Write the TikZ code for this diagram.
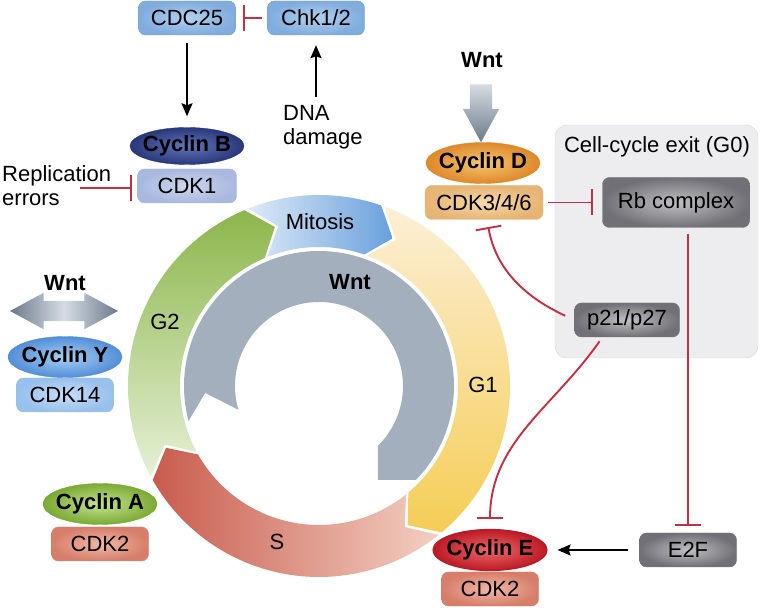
\documentclass[tikz,border=0pt]{standalone}
\usepackage{fontspec}
\setmainfont{Liberation Sans}
\usetikzlibrary{shapes.geometric,shapes.arrows,arrows.meta}

\definecolor{inhred}{RGB}{200,45,65}
\definecolor{ringgray}{RGB}{163,175,188}
\definecolor{mitlt}{RGB}{222,234,247}
\definecolor{mitdk}{RGB}{105,160,220}
\definecolor{gonelt}{RGB}{252,239,214}
\definecolor{gonedk}{RGB}{245,205,85}
\definecolor{slt}{RGB}{243,208,194}
\definecolor{sdk}{RGB}{200,92,78}
\definecolor{gtwolt}{RGB}{230,240,214}
\definecolor{gtwodk}{RGB}{140,182,75}
\definecolor{cdcin}{RGB}{178,208,238}
\definecolor{cdcout}{RGB}{128,172,222}
\definecolor{cdcline}{RGB}{115,158,208}
\definecolor{kinein}{RGB}{205,214,238}
\definecolor{kineout}{RGB}{168,184,222}
\definecolor{cycbin}{RGB}{98,118,188}
\definecolor{cycbout}{RGB}{40,56,122}
\definecolor{cyclyin}{RGB}{168,207,242}
\definecolor{cyclyout}{RGB}{82,142,216}
\definecolor{cdkfourin}{RGB}{198,222,246}
\definecolor{cdkfourout}{RGB}{152,192,236}
\definecolor{cycain}{RGB}{198,226,142}
\definecolor{cycaout}{RGB}{122,170,52}
\definecolor{cdktwoin}{RGB}{242,184,168}
\definecolor{cdktwoout}{RGB}{214,126,106}
\definecolor{cycdin}{RGB}{246,198,114}
\definecolor{cycdout}{RGB}{222,136,42}
\definecolor{cdkdin}{RGB}{249,218,170}
\definecolor{cdkdout}{RGB}{230,180,116}
\definecolor{cycein}{RGB}{236,104,104}
\definecolor{ceout}{RGB}{188,26,36}
\definecolor{grayin}{RGB}{192,192,196}
\definecolor{grayout}{RGB}{112,112,118}
\definecolor{exitfill}{RGB}{237,237,239}
\definecolor{exitline}{RGB}{214,214,219}
\definecolor{wntlt}{RGB}{214,220,226}
\definecolor{wntdk}{RGB}{108,122,140}

\begin{document}
\begin{tikzpicture}[x=1pt,y=1pt,
font=\fontsize{22}{24}\selectfont,
box/.style ={rectangle, rounded corners=7pt, inner sep=0pt,
  minimum width=97pt, minimum height=34pt, text centered
},
cyclin/.style ={ellipse, inner xsep=-25pt, inner ysep=0pt,
  minimum width=114pt, minimum height=41pt,
  font=\fontsize{22}{24}\selectfont\bfseries
},
act/.style ={line width=1.9pt, -{Stealth[length=13pt,width=11pt,inset=2pt]}},
inh/.style ={inhred, line width=1.9pt, -{Bar[width=26pt]}}
]
\useasboundingbox (0,0) rectangle (761,611);

% phases of the cycle
\begin{scope}[shift={(319,225)}]
\shade[left color=mitlt, right color=mitdk]
  (111.8:191) arc[start angle=111.8, end angle=71, radius=191]
  -- (63.5:165) -- (71:139) arc[start angle=71, end angle=111.8, radius=139]
  -- (104.3:165) -- cycle;
\shade[top color=gonelt, bottom color=gonedk]
  (69.8:191) arc[start angle=69.8, end angle=-50, radius=191]
  -- (-57.5:165) -- (-50:139) arc[start angle=-50, end angle=69.8, radius=139]
  -- (62.3:165) -- cycle;
\shade[left color=sdk, right color=slt]
  (-51.2:191) arc[start angle=-51.2, end angle=-150.5, radius=191]
  -- (-158:165) -- (-150.5:139) arc[start angle=-150.5, end angle=-51.2, radius=139]
  -- (-58.7:165) -- cycle;
\shade[top color=gtwodk, bottom color=gtwolt]
  (208.3:191) arc[start angle=208.3, end angle=113, radius=191]
  -- (105.5:165) -- (113:139) arc[start angle=113, end angle=208.3, radius=139]
  -- (200.8:165) -- cycle;
% inner Wnt arrow
\fill[ringgray] (-45.5:84) -- (59,-94) -- (-44.1:135)
  arc[start angle=-44.1, end angle=195, radius=135]
  -- (183.5:114) -- (196.5:84)
  arc[start angle=196.5, end angle=-45.5, radius=84] -- cycle;
\end{scope}

\node (mit) at (320,389) {Mitosis};
\node (gone) at (483,226) {G1};
\node (s) at (277,69) {S};
\node (gtwo) at (165,289) {G2};
\node (wntin) at (350,329) [font=\fontsize{22}{24}\selectfont\bfseries] {Wnt};

% top left
\node (cdc) at (187,593) [box, draw=cdcline, inner color=cdcin, outer color=cdcout] {CDC25};
\node (chk) at (316,593) [box, draw=cdcline, inner color=cdcin, outer color=cdcout] {Chk1/2};
\node (dna) at (283,506) [anchor=north west, align=left, inner sep=0pt] {DNA\\damage};
\node (cdk1) at (187,425) [box, minimum width=99pt, draw=kineout, inner color=kinein, outer color=kineout] {CDK1};
\node (cycb) at (187,465) [cyclin, minimum height=37pt, draw=cycbout, inner color=cycbin, outer color=cycbout] {Cyclin B};
\node (repl) at (2,446) [anchor=north west, align=left, inner sep=0pt] {Replication\\errors};
\coordinate (replend) at (80,423);

% left side
\node (wntl) at (65,328) [font=\fontsize{22}{24}\selectfont\bfseries] {Wnt};
\node (wntlarr) at (64,300) [double arrow, minimum height=108pt, minimum width=36pt,
  double arrow head extend=8pt, double arrow tip angle=57, inner xsep=0pt, inner ysep=10pt,
  left color=wntdk, right color=wntdk, middle color=wntlt] {};
\node (cdkfour) at (65,216) [box, draw=cdkfourout, inner color=cdkfourin, outer color=cdkfourout] {CDK14};
\node (cycy) at (65,254) [cyclin, draw=cyclyout, inner color=cyclyin, outer color=cyclyout] {Cyclin Y};
\node (cdka) at (100,67) [box, draw=cdktwoout, inner color=cdktwoin, outer color=cdktwoout] {CDK2};
\node (cyca) at (100,107) [cyclin, draw=cycaout, inner color=cycain, outer color=cycaout] {Cyclin A};

% right side
\node (g0) at (656.5,369.5) [rectangle, rounded corners=12pt, draw=exitline, fill=exitfill,
  minimum width=203pt, minimum height=233pt] {};
\node (g0lab) at (657,464) {Cell-cycle exit (G0)};
\node (rb) at (676,408.5) [box, minimum width=147pt, minimum height=50pt, draw=grayout,
  inner color=grayin, outer color=grayout] {Rb complex};
\node (p21) at (627,291) [box, minimum width=105pt, draw=grayout,
  inner color=grayin, outer color=grayout] {p21/p27};
\node (e2f) at (688,61) [box, draw=grayout, inner color=grayin, outer color=grayout] {E2F};
\node (wntr) at (482,551) [font=\fontsize{22}{24}\selectfont\bfseries] {Wnt};
\node (wntrarr) at (481,508) [single arrow, shape border rotate=270, minimum height=58pt,
  minimum width=36pt, single arrow head extend=7pt, single arrow tip angle=57,
  inner sep=11pt, top color=wntlt, bottom color=wntdk] {};
\node (cdkd) at (484,408.5) [box, minimum width=118pt, draw=cdkdout, inner color=cdkdin, outer color=cdkdout] {CDK3/4/6};
\node (cycd) at (483,448) [cyclin, draw=cycdout, inner color=cycdin, outer color=cycdout] {Cyclin D};
\node (cdke) at (490,22) [box, draw=cdktwoout, inner color=cdktwoin, outer color=cdktwoout] {CDK2};
\node (cyce) at (490,61) [cyclin, line width=1.2pt, draw=ceout, inner color=cycein, outer color=ceout] {Cyclin E};

% connectors
\draw[act, shorten <=8pt, shorten >=11pt] (cdc) -- (cycb);
\draw[inh, shorten <=5pt, shorten >=7.5pt] (chk) -- (cdc);
\draw[act, shorten <=8pt, shorten >=10pt] (chk.south |- dna.north) -- (chk.south);
\draw[inh, shorten >=5.5pt] (replend) -- (cdk1.west |- replend);
\draw[inh, shorten <=5pt, shorten >=9.5pt] (cdkd) -- (rb);
\draw[inh, shorten <=6pt, shorten >=7pt] (e2f.north |- rb.south) -- (e2f.north);
\draw[inh, shorten <=10pt, shorten >=7.5pt] (p21.west) to[out=155, in=-80] (cdkd);
\draw[inh, shorten <=5pt, shorten >=9.5pt] (p21.-145) to[out=235, in=90] (cyce.north);
\draw[act, shorten <=11.5pt, shorten >=10pt] (e2f) -- (cyce);
\end{tikzpicture}
\end{document}
